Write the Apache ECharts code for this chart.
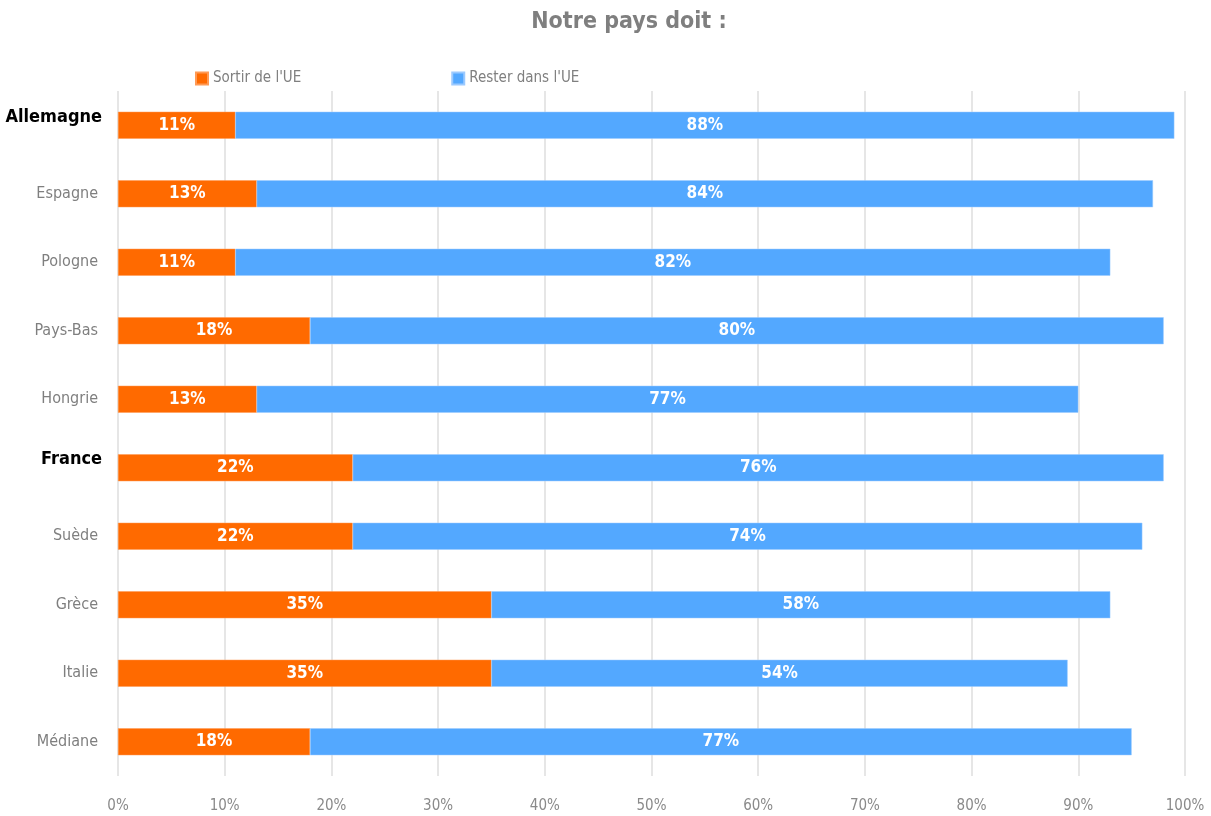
<!DOCTYPE html>
<html>
<head>
<meta charset="utf-8">
<script src="https://cdn.jsdelivr.net/npm/echarts@6/dist/echarts.min.js"></script>
<style>
  html, body { margin: 0; padding: 0; background: #fff; }
  #chart { width: 1211px; height: 816px; }
</style>
</head>
<body>
<div id="chart"></div>
<script>
  var pays = ['Allemagne', 'Espagne', 'Pologne', 'Pays-Bas', 'Hongrie', 'France', 'Suède', 'Grèce', 'Italie', 'Médiane'];
  var sortir = [11, 13, 11, 18, 13, 22, 22, 35, 35, 18];
  var rester = [88, 84, 82, 80, 77, 76, 74, 58, 54, 77];
  var enGras = ['Allemagne', 'France'];

  var police = "'Liberation Sans Narrow', 'DejaVu Sans Condensed', sans-serif";
  var myChart = echarts.init(document.getElementById('chart'));

  var etiquette = {
    show: true,
    position: 'inside',
    color: '#fff',
    fontFamily: police,
    fontWeight: 'bold',
    fontSize: 17,
    formatter: '{c}%'
  };

  var option = {
    animation: false,
    title: {
      text: 'Notre pays doit :',
      left: 624,
      textAlign: 'center',
      top: 6,
      textStyle: { color: '#7f7f7f', fontFamily: police, fontWeight: 'bold', fontSize: 23 }
    },
    legend: {
      left: 190,
      top: 66,
      itemWidth: 12,
      itemHeight: 12,
      itemGap: 150,
      icon: 'rect',
      textStyle: { color: '#7f7f7f', fontFamily: police, fontSize: 15 },
      data: ['Sortir de l\'UE', 'Rester dans l\'UE']
    },
    grid: { left: 118, right: 26, top: 91, bottom: 40, outerBoundsMode: 'none', containLabel: false },
    xAxis: {
      type: 'value',
      min: 0,
      max: 100,
      interval: 10,
      axisLine: { show: false },
      axisTick: { show: false },
      axisLabel: { color: '#8a8a8a', fontFamily: police, fontSize: 15, margin: 23, formatter: '{value}%' },
      splitLine: { show: true, lineStyle: { color: '#dedede', width: 1.5 } }
    },
    yAxis: {
      type: 'category',
      inverse: true,
      data: pays,
      axisLine: { show: false },
      axisTick: { show: false },
      axisLabel: {
        margin: 20,
        formatter: function (v) {
          return enGras.indexOf(v) >= 0 ? '{b|' + v + '}' : '{n|' + v + '}';
        },
        rich: {
          n: { color: '#7f7f7f', fontFamily: police, fontSize: 16 },
          b: { color: '#000', fontFamily: police, fontSize: 18, fontWeight: 'bold', padding: [0, -4, 16, 0] }
        }
      }
    },
    series: [
      {
        name: 'Sortir de l\'UE',
        type: 'bar',
        stack: 'total',
        barWidth: 27,
        data: sortir,
        itemStyle: { color: '#ff6a00', borderColor: '#ff9a55', borderWidth: 0.5 },
        label: etiquette
      },
      {
        name: 'Rester dans l\'UE',
        type: 'bar',
        stack: 'total',
        barWidth: 27,
        data: rester,
        itemStyle: { color: '#53a8ff', borderColor: '#9ccaff', borderWidth: 0.5 },
        label: etiquette
      }
    ]
  };
  myChart.setOption(option);
  window.onresize = function () { myChart.resize(); };
</script>
</body>
</html>
